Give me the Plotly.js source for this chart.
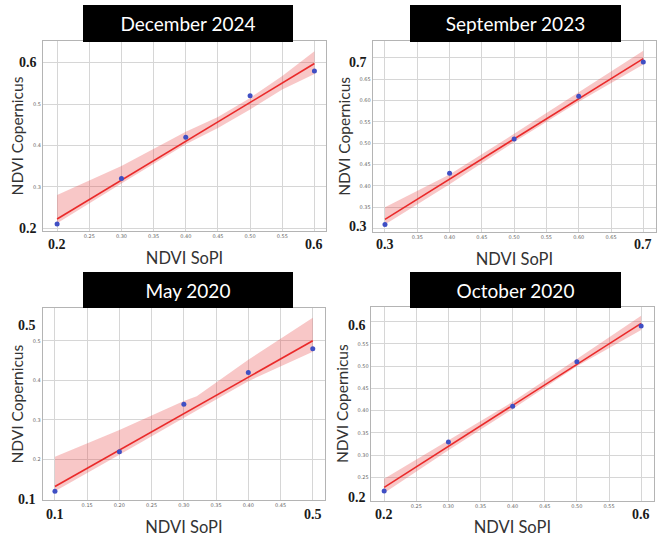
<!DOCTYPE html>
<html>
<head>
<meta charset="utf-8">
<script src="https://cdn.plot.ly/plotly-3.0.1.min.js"></script>
<style>html,body{margin:0;padding:0;background:#fff;}#chart{width:657px;height:537px;}</style>
</head>
<body>
<div id="chart"></div>
<script>
// ---- Panel titles ----
const panelTitles = ["December 2024", "September 2023", "May 2020", "October 2020"];

// ---- Observed points (NDVI SoPI vs NDVI Copernicus) ----
const sopiDec2024 = [0.2, 0.3, 0.4, 0.5, 0.6];
const copDec2024  = [0.21, 0.32, 0.42, 0.52, 0.58];
const sopiSep2023 = [0.3, 0.4, 0.5, 0.6, 0.7];
const copSep2023  = [0.31, 0.43, 0.51, 0.61, 0.69];
const sopiMay2020 = [0.1, 0.2, 0.3, 0.4, 0.5];
const copMay2020  = [0.12, 0.22, 0.34, 0.42, 0.48];
const sopiOct2020 = [0.2, 0.3, 0.4, 0.5, 0.6];
const copOct2020  = [0.22, 0.33, 0.41, 0.51, 0.59];

// ---- Confidence band edges ----
const bandXDec2024  = [0.2, 0.3, 0.4, 0.45, 0.5, 0.55, 0.6];
const bandUpDec2024 = [0.280, 0.350, 0.433, 0.469, 0.515, 0.568, 0.628];
const bandLoDec2024 = [0.212, 0.308, 0.403, 0.442, 0.487, 0.535, 0.573];
const bandXSep2023  = [0.3, 0.4, 0.5, 0.6, 0.7];
const bandUpSep2023 = [0.350, 0.427, 0.522, 0.618, 0.716];
const bandLoSep2023 = [0.310, 0.404, 0.503, 0.597, 0.684];
const bandXMay2020  = [0.1, 0.2, 0.3, 0.32, 0.4, 0.45, 0.5];
const bandUpMay2020 = [0.207, 0.275, 0.348, 0.360, 0.452, 0.505, 0.558];
const bandLoMay2020 = [0.120, 0.212, 0.305, 0.324, 0.398, 0.436, 0.472];
const bandXOct2020  = [0.2, 0.3, 0.4, 0.5, 0.6];
const bandUpOct2020 = [0.247, 0.333, 0.420, 0.516, 0.613];
const bandLoOct2020 = [0.215, 0.311, 0.404, 0.500, 0.581];

// ---- Tick values / labels ----
const xTickValsDec = [0.2, 0.25, 0.3, 0.35, 0.4, 0.45, 0.5, 0.55, 0.6];
const xTickTextDec = ["", "0.25", "0.30", "0.35", "0.40", "0.45", "0.50", "0.55", ""];
const yTickValsDec = [0.2, 0.3, 0.4, 0.5, 0.6];
const yTickTextDec = ["", "0.3", "0.4", "0.5", ""];
const xTickValsSep = [0.3, 0.35, 0.4, 0.45, 0.5, 0.55, 0.6, 0.65, 0.7];
const xTickTextSep = ["", "0.35", "0.40", "0.45", "0.50", "0.55", "0.60", "0.65", ""];
const yTickValsSep = [0.3, 0.35, 0.4, 0.45, 0.5, 0.55, 0.6, 0.65, 0.7];
const yTickTextSep = ["", "0.35", "0.40", "0.45", "0.50", "0.55", "0.60", "0.65", ""];
const xTickValsMay = [0.1, 0.15, 0.2, 0.25, 0.3, 0.35, 0.4, 0.45, 0.5];
const xTickTextMay = ["", "0.15", "0.20", "0.25", "0.30", "0.35", "0.40", "0.45", ""];
const yTickValsMay = [0.1, 0.2, 0.3, 0.4, 0.5];
const yTickTextMay = ["", "0.2", "0.3", "0.4", "0.5"];
const xTickValsOct = [0.2, 0.25, 0.3, 0.35, 0.4, 0.45, 0.5, 0.55, 0.6];
const xTickTextOct = ["", "0.25", "0.30", "0.35", "0.40", "0.45", "0.50", "0.55", ""];
const yTickValsOct = [0.2, 0.25, 0.3, 0.35, 0.4, 0.45, 0.5, 0.55, 0.6];
const yTickTextOct = ["", "0.25", "0.30", "0.35", "0.40", "0.45", "0.50", "0.55", ""];

// ---- Big bold end labels ----
const bigXLabelsDec = [0.2, 0.6], bigYLabelsDec = [0.2, 0.6];
const bigXLabelsSep = [0.3, 0.7], bigYLabelsSep = [0.3, 0.7];
const bigXLabelsMay = [0.1, 0.5], bigYLabelsMay = [0.1, 0.5];
const bigXLabelsOct = [0.2, 0.6], bigYLabelsOct = [0.2, 0.6];

const xTitle = "NDVI SoPI";
const yTitle = "NDVI Copernicus";

function fit(x, y) {
  const n = x.length;
  const mx = x.reduce((a, b) => a + b, 0) / n;
  const my = y.reduce((a, b) => a + b, 0) / n;
  let sxy = 0, sxx = 0;
  for (let i = 0; i < n; i++) { sxy += (x[i] - mx) * (y[i] - my); sxx += (x[i] - mx) ** 2; }
  const b = sxy / sxx, a = my - b * mx;
  const x0 = Math.min(...x), x1 = Math.max(...x);
  return { x: [x0, x1], y: [a + b * x0, a + b * x1] };
}

const panels = [
  { sx: sopiDec2024, sy: copDec2024, bx: bandXDec2024, bu: bandUpDec2024, bl: bandLoDec2024,
    xv: xTickValsDec, xt: xTickTextDec, yv: yTickValsDec, yt: yTickTextDec, bigX: bigXLabelsDec, bigY: bigYLabelsDec,
    xr: [0.178, 0.618], yr: [0.193, 0.6525], xd: [0.0654, 0.4962], yd: [0.5698, 0.9236],
    box: [188, 23.5, 210, 37], yShift: [0, 0], ySideShift: -15, xLabShift: -13 },
  { sx: sopiSep2023, sy: copSep2023, bx: bandXSep2023, bu: bandUpSep2023, bl: bandLoSep2023,
    xv: xTickValsSep, xt: xTickTextSep, yv: yTickValsSep, yt: yTickTextSep, bigX: bigXLabelsSep, bigY: bigYLabelsSep,
    xr: [0.281, 0.7197], yr: [0.293, 0.739], xd: [0.5673, 0.9985], yd: [0.5685, 0.9236],
    box: [515.5, 23.5, 211, 37], yShift: [2, -5], ySideShift: -15, xLabShift: -13 },
  { sx: sopiMay2020, sy: copMay2020, bx: bandXMay2020, bu: bandUpMay2020, bl: bandLoMay2020,
    xv: xTickValsMay, xt: xTickTextMay, yv: yTickValsMay, yt: yTickTextMay, bigX: bigXLabelsMay, bigY: bigYLabelsMay,
    xr: [0.081, 0.519], yr: [0.098, 0.582], xd: [0.065, 0.4947], yd: [0.0689, 0.4259],
    box: [188, 289.7, 210, 36], yShift: [0, 15], ySideShift: -16, xLabShift: -14 },
  { sx: sopiOct2020, sy: copOct2020, bx: bandXOct2020, bu: bandUpOct2020, bl: bandLoOct2020,
    xv: xTickValsOct, xt: xTickTextOct, yv: yTickValsOct, yt: yTickTextOct, bigX: bigXLabelsOct, bigY: bigYLabelsOct,
    xr: [0.179, 0.62], yr: [0.198, 0.6335], xd: [0.5642, 0.9954], yd: [0.0676, 0.4289],
    box: [515.5, 290, 211, 36], yShift: [2, -4], ySideShift: -14, xLabShift: -14 }
];

const W = 657, H = 537;
const traces = [];
const layout = {
  width: W, height: H, margin: { l: 0, r: 0, t: 0, b: 0 },
  paper_bgcolor: "#ffffff", plot_bgcolor: "#ffffff", showlegend: false,
  annotations: [], shapes: []
};

panels.forEach((p, i) => {
  const k = i === 0 ? "" : String(i + 1);
  const xa = "x" + k, ya = "y" + k;
  // band
  traces.push({
    type: "scatter", mode: "lines", xaxis: xa, yaxis: ya, hoverinfo: "skip",
    x: p.bx.concat(p.bx.slice().reverse()),
    y: p.bu.concat(p.bl.slice().reverse()),
    fill: "toself", fillcolor: "rgba(232,70,70,0.3)", line: { width: 0, color: "rgba(0,0,0,0)" }
  });
  // regression line (least-squares fit of the points)
  const f = fit(p.sx, p.sy);
  traces.push({ type: "scatter", mode: "lines", xaxis: xa, yaxis: ya, x: f.x, y: f.y,
    line: { color: "#ea2a2a", width: 1.6 } });
  // points
  traces.push({ type: "scatter", mode: "markers", xaxis: xa, yaxis: ya, x: p.sx, y: p.sy,
    marker: { color: "#3f4fc4", size: 5 } });

  const axCommon = {
    showgrid: true, gridcolor: "#d6d6d6", gridwidth: 1, zeroline: false,
    showline: true, linecolor: "#b4b4b4", linewidth: 1, mirror: true,
    ticks: "", tickmode: "array", tickfont: { size: 5, color: "#666", family: "DejaVu Sans" }
  };
  layout["xaxis" + k] = Object.assign({}, axCommon, {
    domain: p.xd, range: p.xr, anchor: ya, tickvals: p.xv, ticktext: p.xt,
    title: { text: xTitle, font: { family: "Lato", size: 16.5, color: "#333", weight: 400 }, standoff: 14 }
  });
  layout["yaxis" + k] = Object.assign({}, axCommon, {
    domain: p.yd, range: p.yr, anchor: xa, tickvals: p.yv, ticktext: p.yt,
    title: { text: yTitle, font: { family: "Lato", size: 15.5, color: "#333", weight: 400 }, standoff: 5 }
  });

  // title box
  layout.annotations.push({
    xref: "paper", yref: "paper", x: p.box[0] / W, y: 1 - p.box[1] / H,
    xanchor: "center", yanchor: "middle", showarrow: false,
    text: panelTitles[i], font: { family: "Lato", size: 19, color: "#ffffff", weight: 400 },
    bgcolor: "#000000", width: p.box[2], height: p.box[3], borderpad: 0, borderwidth: 0
  });
  // big bold end labels
  const bigFont = { family: "Liberation Serif", size: 14, color: "#1a1a1a" };
  p.bigY.forEach((v, j) => {
    layout.annotations.push({
      xref: xa + " domain", yref: ya, x: 0, y: v, xshift: p.ySideShift, yshift: p.yShift[j],
      xanchor: "center", yanchor: "middle", showarrow: false,
      text: "<b>" + v.toFixed(1) + "</b>", font: bigFont
    });
  });
  p.bigX.forEach((v) => {
    layout.annotations.push({
      xref: xa, yref: ya + " domain", x: v, y: 0, yshift: p.xLabShift,
      xanchor: "center", yanchor: "middle", showarrow: false,
      text: "<b>" + v.toFixed(1) + "</b>", font: bigFont
    });
  });
});

Plotly.newPlot("chart", traces, layout, { displayModeBar: false, staticPlot: true });
</script>
</body>
</html>
